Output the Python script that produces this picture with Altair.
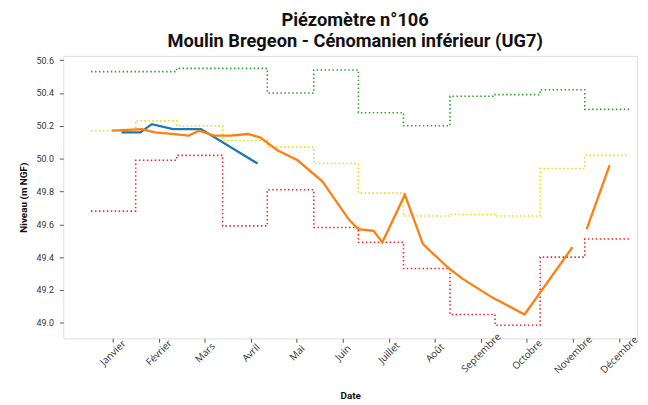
import json
import altair as alt
import pandas as pd

# ---------------- data ----------------
mois = ["Janvier", "Février", "Mars", "Avril", "Mai", "Juin", "Juillet",
        "Août", "Septembre", "Octobre", "Novembre", "Décembre"]
mois_num = list(range(1, 13))
niveaux_ticks = [49.0, 49.2, 49.4, 49.6, 49.8, 50.0, 50.2, 50.4, 50.6]

# monthly threshold steps (edges in month units)
bornes = [0.53, 1.50, 2.39, 3.39, 4.36, 5.37, 6.34, 7.32, 8.33, 9.31, 10.29, 11.26, 12.23]
seuil_haut = [50.53, 50.53, 50.55, 50.55, 50.40, 50.54, 50.28, 50.20, 50.38, 50.39, 50.42, 50.30]
seuil_moyen = [50.17, 50.23, 50.20, 50.11, 50.07, 49.97, 49.79, 49.65, 49.66, 49.65, 49.94, 50.02]
seuil_bas = [49.68, 49.99, 50.02, 49.59, 49.81, 49.58, 49.49, 49.33, 49.05, 48.985, 49.40, 49.51]

# previous series (blue)
bleu_x = [1.19, 1.60, 1.85, 2.31, 2.92, 4.15]
bleu_y = [50.16, 50.16, 50.21, 50.18, 50.18, 49.97]

# current series (orange), two pieces
orange_x = [0.985, 1.63, 1.92, 2.34, 2.65, 2.88, 3.20, 3.56, 3.94, 4.20, 4.59,
            5.02, 5.56, 6.13, 6.34, 6.67, 6.86, 7.35, 7.74, 8.27, 8.59, 9.27,
            9.42, 9.95, 10.99, 11.30, 11.80]
orange_y = [50.17, 50.18, 50.16, 50.15, 50.14, 50.17, 50.14, 50.14, 50.15, 50.13,
            50.05, 49.99, 49.86, 49.63, 49.57, 49.56, 49.49, 49.78, 49.48, 49.34,
            49.27, 49.15, 49.13, 49.05, 49.46, 49.57, 49.96]
orange_seg = [0] * 25 + [1] * 2

# ---------------- tables ----------------
rows = []
for nom, vals in [("haut", seuil_haut), ("moyen", seuil_moyen), ("bas", seuil_bas)]:
    for i, v in enumerate(vals):
        rows.append({"x": bornes[i], "y": v, "serie": nom})
    rows.append({"x": bornes[-1], "y": vals[-1], "serie": nom})
df_seuils = pd.DataFrame(rows)
df_bleu = pd.DataFrame({"x": bleu_x, "y": bleu_y})
df_orange = pd.DataFrame({"x": orange_x, "y": orange_y, "seg": orange_seg})

# ---------------- encodings ----------------
FONT = "Roboto"
LABEL_FONT = "Open Sans"
label_expr = json.dumps(mois) + "[datum.value - 1]"

# approximate text width of each rotated label, so that it is centred under its tick
width_expr = (
    "(5.6 * length(datum.label)"
    " - 2.8 * length(replace(datum.label, regexp('[^ijlrtfJ]', 'g'), ''))"
    " + 2.9 * length(replace(datum.label, regexp('[^mM]', 'g'), '')))"
)
pad_expr = "6 + (" + width_expr + " + 7) * 0.3536"

x_axis = alt.Axis(
    values=mois_num,
    labelExpr=label_expr,
    labelAngle=-45,
    labelAlign="center",
    labelBaseline="middle",
    labelPadding={"expr": pad_expr},
    labelFontSize=10,
    labelFont=LABEL_FONT,
    labelColor="#333333",
    labelOverlap=False,
    labelBound=False,
    labelFlush=False,
    tickSize=4,
    tickColor="#555555",
    domain=False,
    grid=False,
    title="Date",
    titleFont=FONT,
    titleFontSize=10,
    titleFontWeight="bold",
    titleColor="#111111",
    titleY=58,
    titleBaseline="middle",
)
y_axis = alt.Axis(
    values=niveaux_ticks,
    tickCount=9,
    format=".1f",
    labelFontSize=9,
    labelFont=FONT,
    labelColor="#333333",
    labelPadding=6,
    labelOverlap=False,
    tickSize=4,
    tickColor="#555555",
    domain=False,
    grid=False,
    title="Niveau (m NGF)",
    titleFont=FONT,
    titleFontSize=10,
    titleFontWeight="bold",
    titleColor="#111111",
    titleX=-40,
    titleBaseline="middle",
)
x_scale = alt.Scale(domain=[-0.073, 12.395], nice=False, zero=False)
y_scale = alt.Scale(domain=[48.905, 50.626], nice=False, zero=False)


def xe():
    return alt.X("x:Q", scale=x_scale, axis=x_axis)


def ye():
    return alt.Y("y:Q", scale=y_scale, axis=y_axis)


seuils = alt.Chart(df_seuils).mark_line(
    interpolate="step-after", strokeDash=[1.5, 2.5], strokeWidth=1.6
).encode(
    x=xe(),
    y=ye(),
    color=alt.Color(
        "serie:N",
        scale=alt.Scale(domain=["haut", "moyen", "bas"],
                        range=["#2ca02c", "#e8e000", "#ff2020"]),
        legend=None,
    ),
)

bleu = alt.Chart(df_bleu).mark_line(color="#1f77b4", strokeWidth=2.3).encode(
    x=xe(), y=ye()
)

orange = alt.Chart(df_orange).mark_line(color="#ff7f0e", strokeWidth=2.3).encode(
    x=xe(), y=ye(), detail="seg:N"
)

chart = alt.layer(seuils, bleu, orange).properties(
    width=581,
    height=286,
    autosize=alt.AutoSizeParams(type="none"),
    padding={"left": 56, "top": 46, "right": 3, "bottom": 63},
    title=alt.TitleParams(
        text=["Piézomètre n°106", "Moulin Bregeon - Cénomanien inférieur (UG7)"],
        font=FONT,
        fontSize=18.5,
        fontWeight="bold",
        color="#111111",
        anchor="middle",
        frame="group",
        baseline="bottom",
        lineHeight=22,
        offset=5,
        dx=5,
        dy=19,
    ),
).configure_view(
    stroke="#6a6a6a", strokeWidth=1.8
).configure(background="white")

chart.save("out.html", embed_options={"renderer": "svg", "actions": False})
